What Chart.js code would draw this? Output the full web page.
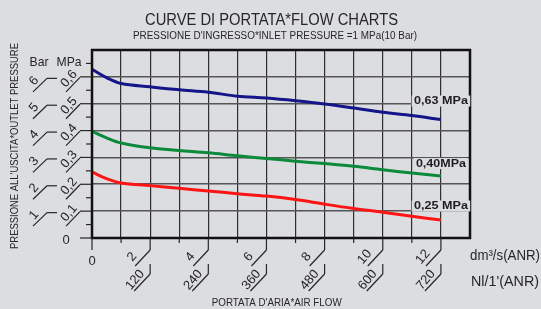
<!DOCTYPE html>
<html>
<head>
<meta charset="utf-8">
<script src="https://cdn.jsdelivr.net/npm/chart.js@4.4.0/dist/chart.umd.min.js"></script>
<style>
html, body { margin: 0; padding: 0; background: #dcdde0; }
#wrap { width: 541px; height: 309px; position: relative; }
</style>
</head>
<body>
<div id="wrap"><canvas id="chart"></canvas></div>
<script>
// portata dm3/s (ANR)
const flowDm3s = [0, 0.5, 1, 2, 3, 4, 5, 6, 7, 8, 9, 10, 11, 12];
// pressione in uscita (MPa) per le tre regolazioni
const outlet063 = [0.628, 0.597, 0.575, 0.563, 0.552, 0.543, 0.528, 0.521, 0.511, 0.499, 0.484, 0.468, 0.456, 0.441];
const outlet040 = [0.397, 0.373, 0.354, 0.336, 0.326, 0.317, 0.306, 0.296, 0.286, 0.277, 0.267, 0.254, 0.242, 0.231];
const outlet025 = [0.246, 0.221, 0.205, 0.195, 0.185, 0.175, 0.165, 0.156, 0.143, 0.126, 0.110, 0.096, 0.081, 0.067];
const seriesLabels = ['0,63 MPa', '0,40MPa', '0,25 MPa'];
const seriesColors = ['#15158a', '#0b8a3b', '#ff1414'];

// etichette assi
const dm3Ticks = [2, 4, 6, 8, 10, 12];
const nlTicks = ['120', '240', '360', '480', '600', '720'];
const mpaTicks = [0.1, 0.2, 0.3, 0.4, 0.5, 0.6];
const mpaLabels = ['0,1', '0,2', '0,3', '0,4', '0,5', '0,6'];
const barLabels = ['1', '2', '3', '4', '5', '6'];

const BG = '#dcdde0';
const INK = '#262626';

function pts(ys) {
    return flowDm3s.map((x, i) => ({ x: x, y: ys[i] }));
}

// testo centrato, eventualmente ruotato e adattato a una larghezza
function txt(ctx, s, x, y, o) {
    ctx.save();
    ctx.font = o.font;
    ctx.textAlign = 'center';
    ctx.textBaseline = 'middle';
    ctx.translate(x, y);
    if (o.rot) ctx.rotate(o.rot);
    const m = ctx.measureText(s).width;
    if (o.w) ctx.scale(o.w / m, 1);
    if (o.bg) {
        ctx.fillStyle = o.bg;
        ctx.fillRect(-m / 2 - 2, -o.h / 2, m + 4, o.h);
    }
    ctx.fillStyle = o.color || INK;
    ctx.fillText(s, 0, 0);
    ctx.restore();
}

function seg(ctx, x1, y1, x2, y2) {
    ctx.beginPath();
    ctx.moveTo(x1, y1);
    ctx.lineTo(x2, y2);
    ctx.stroke();
}

const ROT = -50 * Math.PI / 180;
const FF = '"Liberation Sans", Arial, sans-serif';

const decorPlugin = {
    id: 'decor',
    beforeDraw(chart) {
        const ctx = chart.ctx;
        ctx.save();
        ctx.fillStyle = BG;
        ctx.fillRect(0, 0, chart.width, chart.height);
        ctx.restore();
    },
    afterDatasetsDraw(chart) {
        const ctx = chart.ctx;
        const a = chart.chartArea;
        const xs = chart.scales.x;
        const ys = chart.scales.y;
        ctx.save();

        // cornice
        ctx.strokeStyle = '#111';
        ctx.lineWidth = 2.5;
        ctx.strokeRect(a.left, a.top, a.right - a.left, a.bottom - a.top);

        ctx.strokeStyle = INK;
        ctx.lineWidth = 1.2;

        // tacche piccole asse y ogni 0.05
        for (let v = 0.05; v < 0.7; v += 0.1) {
            const Y = ys.getPixelForValue(v);
            seg(ctx, a.left - 6, Y, a.left, Y);
        }
        // zero asse y
        const Y0 = ys.getPixelForValue(0);
        seg(ctx, a.left - 12, Y0, a.left, Y0);
        txt(ctx, '0', a.left - 26, Y0 + 2, { font: '13px ' + FF });

        // etichette Bar / MPa
        mpaTicks.forEach((v, i) => {
            const Y = ys.getPixelForValue(v);
            const L = a.left;
            seg(ctx, L - 12, Y, L, Y);
            seg(ctx, L - 26, Y + 15, L - 12, Y + 0.5);
            txt(ctx, mpaLabels[i], L - 23, Y + 2, { font: '13px ' + FF, rot: ROT });
            seg(ctx, L - 45, Y + 1.5, L - 35, Y + 1.5);
            seg(ctx, L - 59, Y + 15, L - 45, Y + 1.5);
            txt(ctx, barLabels[i], L - 58, Y + 4, { font: '13px ' + FF, rot: ROT });
        });
        const Yh = ys.getPixelForValue(0.65);
        txt(ctx, 'Bar', 39, Yh - 1, { font: '13px ' + FF, w: 19 });
        txt(ctx, 'MPa', 69, Yh - 1, { font: '13px ' + FF, w: 25 });

        // asse x
        const B = a.bottom;
        seg(ctx, xs.getPixelForValue(0), B, xs.getPixelForValue(0), B + 12);
        txt(ctx, '0', xs.getPixelForValue(0), B + 23, { font: '13px ' + FF });
        for (let v = 1; v < 13; v += 2) {
            const X = xs.getPixelForValue(v);
            seg(ctx, X, B, X, B + 5);
        }
        dm3Ticks.forEach((v, i) => {
            const X = xs.getPixelForValue(v);
            seg(ctx, X, B, X, B + 12);
            seg(ctx, X, B + 12, X - 15, B + 28);
            txt(ctx, String(v), X - 18, B + 19, { font: '13px ' + FF, rot: ROT });
            seg(ctx, X, B + 26, X, B + 36);
            seg(ctx, X, B + 36, X - 16, B + 53);
            txt(ctx, nlTicks[i], X - 15, B + 42, { font: '13px ' + FF, rot: ROT });
        });
        txt(ctx, 'dm³/s(ANR)', 505, 256, { font: '14px ' + FF, w: 70 });
        txt(ctx, "Nl/1'(ANR)", 505, 282, { font: '14px ' + FF, w: 68 });

        // etichette curve
        const X12 = xs.getPixelForValue(12);
        const labelVals = [0.51, 0.277, 0.119];
        seriesLabels.forEach((s, i) => {
            txt(ctx, s, X12, ys.getPixelForValue(labelVals[i]), {
                font: 'bold 11px ' + FF, w: s === '0,40MPa' ? 50 : 54, bg: BG, h: 11, color: '#1e1e1e'
            });
        });

        // titoli
        txt(ctx, 'CURVE DI PORTATA*FLOW CHARTS', 271.5, 21, { font: '16px ' + FF, w: 253 });
        txt(ctx, "PRESSIONE D'INGRESSO*INLET PRESSURE =1 MPa(10 Bar)", 275, 36.5, { font: '10px ' + FF, w: 284 });
        txt(ctx, "PORTATA D'ARIA*AIR FLOW", 276.7, 302.5, { font: '11px ' + FF, w: 130 });
        txt(ctx, "PRESSIONE ALL'USCITA*OUTLET PRESSURE", 15, 146, { font: '10px ' + FF, w: 206, rot: -Math.PI / 2 });

        ctx.restore();
    }
};

const ctx = document.getElementById('chart').getContext('2d');
const chart = new Chart(ctx, {
    type: 'line',
    data: {
        datasets: [outlet063, outlet040, outlet025].map((ys, i) => ({
            label: seriesLabels[i],
            data: pts(ys),
            borderColor: seriesColors[i],
            borderWidth: 3,
            pointRadius: 0,
            tension: 0.35,
            fill: false
        }))
    },
    options: {
        responsive: true,
        maintainAspectRatio: false,
        animation: false,
        layout: { autoPadding: false, padding: { left: 92, right: 71, top: 50, bottom: 71 } },
        plugins: { legend: { display: false }, tooltip: { enabled: false } },
        scales: {
            x: {
                type: 'linear', min: 0, max: 13,
                ticks: { display: false, stepSize: 1 },
                grid: { color: '#2e2e2e', lineWidth: 1.2, drawTicks: false },
                border: { display: false }
            },
            y: {
                min: 0, max: 0.7,
                ticks: { display: false, stepSize: 0.1 },
                grid: { color: '#555', lineWidth: 1.6, drawTicks: false },
                border: { display: false }
            }
        }
    },
    plugins: [decorPlugin]
});
</script>
</body>
</html>
